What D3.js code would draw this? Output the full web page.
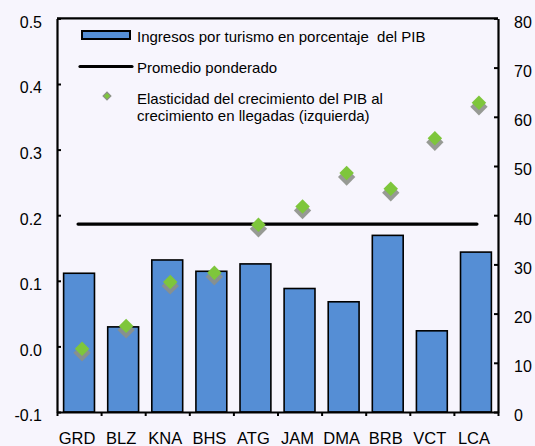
<!DOCTYPE html>
<html>
<head>
<meta charset="utf-8">
<script src="https://cdn.jsdelivr.net/npm/d3@7"></script>
<style>
	body { margin: 0; background: #f7f5fd; }
	text { font-family: "Liberation Sans", Arial, sans-serif; fill: #000; white-space: pre; }
</style>
</head>
<body>
<div id="content"></div>
<script>
var countries = ["GRD", "BLZ", "KNA", "BHS", "ATG", "JAM", "DMA", "BRB", "VCT", "LCA"];
// ingresos por turismo, % del PIB (eje derecho)
var tourismShare = [28.2, 17.3, 30.9, 28.6, 30.1, 25.1, 22.4, 35.9, 16.5, 32.5];
// elasticidad (eje izquierdo)
var elasticity = [-0.006, 0.029, 0.096, 0.110, 0.183, 0.211, 0.262, 0.238, 0.315, 0.369];
var weightedAvg = 38.2;
var leftTicks = [-0.1, 0.0, 0.1, 0.2, 0.3, 0.4, 0.5];
var rightTicks = [0, 10, 20, 30, 40, 50, 60, 70, 80];
var legendLabels = [
	"Ingresos por turismo en porcentaje  del PIB",
	"Promedio ponderado",
	"Elasticidad del crecimiento del PIB al",
	"crecimiento en llegadas (izquierda)"
];

function main() {
	var width = 535, height = 446;
	var left = 57, right = 498, top = 18.4, bottom = 412;

	var svg = d3.select("#content").append("svg")
		.attr("width", width)
		.attr("height", height);

	svg.append("rect")
		.attr("width", width).attr("height", height)
		.attr("fill", "#f7f5fd");

	var x = d3.scaleBand()
		.domain(countries)
		.range([left, right])
		.paddingInner(0.3)
		.paddingOuter(0.15);
	var xi = d3.scaleLinear().domain([0, countries.length]).range([left, right]);
	var yL = d3.scaleLinear().domain([-0.1, 0.5]).range([bottom, top]);
	var yR = d3.scaleLinear().domain([0, 80]).range([bottom, top]);

	// bars
	svg.append("g").selectAll("rect")
		.data(tourismShare)
		.enter().append("rect")
		.attr("x", function (d, i) { return x(countries[i]); })
		.attr("y", function (d) { return yR(d); })
		.attr("width", x.bandwidth())
		.attr("height", function (d) { return yR(0) - yR(d); })
		.attr("fill", "#558ed5")
		.attr("stroke", "#000")
		.attr("stroke-width", 1.6);

	// weighted average line
	svg.append("line")
		.attr("x1", x(countries[0]) + x.bandwidth() / 2 - 1)
		.attr("x2", x(countries[countries.length - 1]) + x.bandwidth() / 2 + 1)
		.attr("y1", yR(weightedAvg))
		.attr("y2", yR(weightedAvg))
		.attr("stroke", "#000")
		.attr("stroke-width", 3.2)
		.attr("stroke-linecap", "round");

	// diamonds
	var sq = d3.symbol().type(d3.symbolSquare);
	var pts = svg.append("g").selectAll("g")
		.data(elasticity)
		.enter().append("g")
		.attr("transform", function (d, i) {
			return "translate(" + (x(countries[i]) + x.bandwidth() / 2 + 3) + "," + yL(d) + ")";
		});
	pts.append("path")
		.attr("d", sq.size(150)())
		.attr("transform", "translate(0,2.5) rotate(45)")
		.attr("fill", "#8c9088")
		.attr("opacity", 0.9);
	pts.append("path")
		.attr("d", sq.size(105)())
		.attr("transform", "translate(0,-1.5) rotate(45)")
		.attr("fill", "#7ec63c");

	// axes
	var fmt = function (d) { return d3.format(".1f")(d).replace("\u2212", "-"); };
	var gL = svg.append("g")
		.attr("transform", "translate(" + left + ",0)")
		.call(d3.axisLeft(yL).tickValues(leftTicks).tickFormat(fmt)
			.tickSizeInner(-4).tickSizeOuter(0).tickPadding(15));
	var gR = svg.append("g")
		.attr("transform", "translate(" + right + ",0)")
		.call(d3.axisRight(yR).tickValues(rightTicks)
			.tickSizeInner(-4).tickSizeOuter(0).tickPadding(16));
	var gB = svg.append("g")
		.attr("transform", "translate(0," + bottom + ")")
		.call(d3.axisBottom(xi).ticks(countries.length).tickFormat("")
			.tickSizeInner(4).tickSizeOuter(0));

	[gL, gR, gB].forEach(function (g) {
		g.select(".domain").attr("stroke", "#000").attr("stroke-width", 2.2);
		g.selectAll(".tick line").attr("stroke", "#000").attr("stroke-width", 2);
		g.selectAll("text")
			.attr("font-family", "Liberation Sans, Arial, sans-serif")
			.attr("font-size", 16)
			.attr("fill", "#000")
			.attr("dy", "0.55em");
	});

	// top border
	svg.append("line")
		.attr("x1", left).attr("x2", right)
		.attr("y1", top).attr("y2", top)
		.attr("stroke", "#000").attr("stroke-width", 2.2);

	// category labels
	svg.append("g").selectAll("text")
		.data(countries)
		.enter().append("text")
		.attr("x", function (d) { return x(d) + x.bandwidth() / 2 - 2; })
		.attr("y", 444)
		.attr("text-anchor", "middle")
		.attr("font-size", 16.5)
		.text(function (d) { return d; });

	// legend
	var lg = svg.append("g");
	lg.append("rect")
		.attr("x", 82).attr("y", 31).attr("width", 48).attr("height", 8)
		.attr("fill", "#558ed5").attr("stroke", "#000").attr("stroke-width", 2);
	lg.append("line")
		.attr("x1", 80).attr("x2", 132).attr("y1", 66.5).attr("y2", 66.5)
		.attr("stroke", "#000").attr("stroke-width", 3.2).attr("stroke-linecap", "round");
	lg.append("path")
		.attr("d", sq.size(30)())
		.attr("transform", "translate(107,96) rotate(45)")
		.attr("fill", "#7ec63c").attr("stroke", "#8c9088").attr("stroke-width", 1.2);

	var ys = [41.7, 73, 104, 120.5];
	lg.selectAll("text.leg")
		.data(legendLabels)
		.enter().append("text")
		.attr("class", "leg")
		.attr("x", 137)
		.attr("y", function (d, i) { return ys[i]; })
		.attr("font-size", 15)
		.text(function (d) { return d; });
}

main();
</script>
</body>
</html>
